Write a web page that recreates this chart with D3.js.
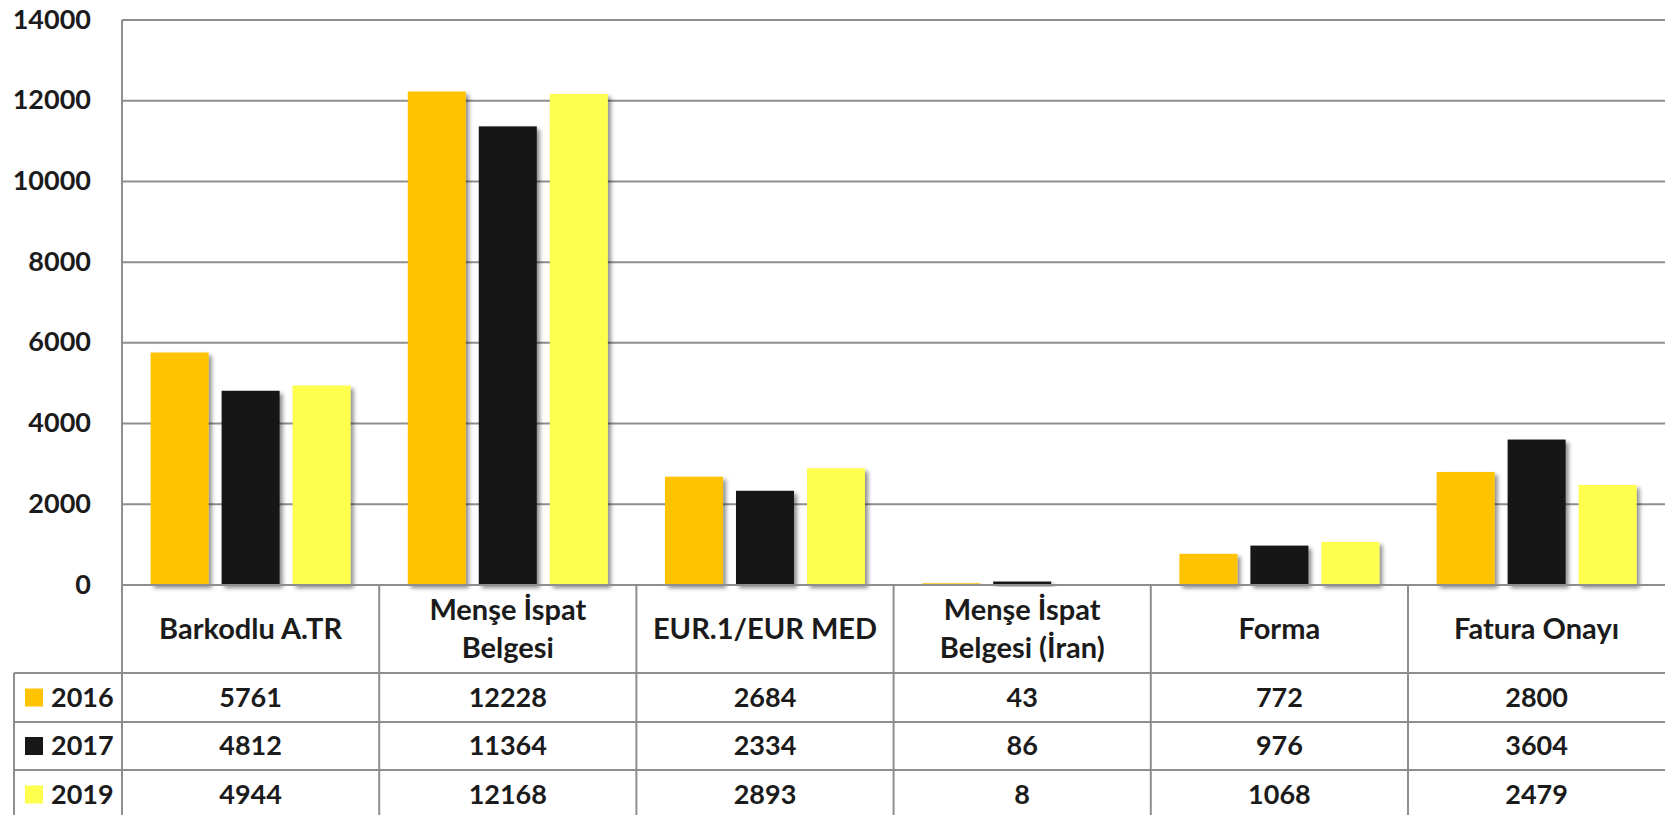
<!DOCTYPE html>
<html><head><meta charset="utf-8">
<script src="https://cdn.jsdelivr.net/npm/d3@7"></script>
<style>
html,body{margin:0;padding:0;background:#fff;overflow:hidden;}
svg text{font-family:Lato,"Open Sans",sans-serif;font-weight:700;fill:#1b1b1b;}
</style></head>
<body>
<svg id="c" width="1665" height="815"></svg>
<script>
const categories = [["Barkodlu A.TR"],["Menşe İspat","Belgesi"],["EUR.1/EUR MED"],["Menşe İspat","Belgesi (İran)"],["Forma"],["Fatura Onayı"]];
const seriesNames = ["2016","2017","2019"];
const seriesColors = ["#FFC300","#171717","#FFFF4D"];
const values2016 = [5761,12228,2684,43,772,2800];
const values2017 = [4812,11364,2334,86,976,3604];
const values2019 = [4944,12168,2893,8,1068,2479];
const yTicks = [0,2000,4000,6000,8000,10000,12000,14000];

(function(){
const series = [values2016, values2017, values2019];
const svg = d3.select("#c");
const W = 1665;
const plotLeft = 122, plotTop = 20, zeroY = 585;
const rowYs = [673, 722, 770, 819];
const gridColor = "#928d8d";

const defs = svg.append("defs");
const f = defs.append("filter").attr("id","sh").attr("x","-20%").attr("y","-20%").attr("width","150%").attr("height","150%");
f.append("feDropShadow").attr("dx",3).attr("dy",3).attr("stdDeviation",2.2).attr("flood-color","#000").attr("flood-opacity",0.45);

const catIdx = categories.map((d,i)=>i);
const x0 = d3.scaleBand().domain(catIdx).range([plotLeft, plotLeft + 257.2*6]).paddingInner(0).paddingOuter(0);
const x1 = d3.scaleBand().domain(d3.range(3)).range([0, x0.bandwidth()]).paddingInner(0.183).paddingOuter(0.403);
const y = d3.scaleLinear().domain([0,14000]).range([zeroY, plotTop]);

// gridlines
svg.append("g").selectAll("line").data(yTicks).join("line")
  .attr("x1", plotLeft).attr("x2", W).attr("y1", d=>y(d)).attr("y2", d=>y(d))
  .attr("stroke", gridColor).attr("stroke-width", 2);

// y-axis labels
const yAxis = d3.axisLeft(y).tickValues(yTicks).tickSize(0).tickPadding(0).tickFormat(d3.format("d"));
const ga = svg.append("g").attr("transform", `translate(91,0)`).call(yAxis);
ga.select(".domain").remove();
ga.selectAll("text").attr("font-size", 27).attr("font-family","Lato,'Open Sans',sans-serif").attr("font-weight",700).attr("fill","#1b1b1b").attr("dy","0.3em").attr("text-anchor","end");

// bars
const g = svg.append("g");
series.forEach((vals, s) => {
  g.selectAll(".b"+s).data(vals).join("rect").attr("class","b"+s)
    .attr("x", (d,i)=>x0(i)+x1(s))
    .attr("width", x1.bandwidth())
    .attr("y", d=>y(d))
    .attr("height", d=>zeroY - y(d))
    .attr("fill", seriesColors[s])
    .attr("filter","url(#sh)");
});

// table lines
const tg = svg.append("g").attr("stroke", gridColor).attr("stroke-width", 2);
tg.append("line").attr("x1", plotLeft).attr("x2", plotLeft).attr("y1", plotTop).attr("y2", 815);
tg.append("line").attr("x1", 14).attr("x2", 14).attr("y1", rowYs[0]).attr("y2", 815);
catIdx.slice(1).forEach(i => {
  tg.append("line").attr("x1", x0(i)).attr("x2", x0(i)).attr("y1", zeroY).attr("y2", 815);
});
tg.append("line").attr("x1", plotLeft).attr("x2", W).attr("y1", zeroY).attr("y2", zeroY);
rowYs.slice(0,3).forEach(ry => {
  tg.append("line").attr("x1", 14).attr("x2", W).attr("y1", ry).attr("y2", ry);
});

// category labels
categories.forEach((lines, i) => {
  const cx = x0(i) + x0.bandwidth()/2;
  const cy = (zeroY + rowYs[0]) / 2;
  const lh = 38;
  lines.forEach((t, k) => {
    svg.append("text").attr("x", cx).attr("y", cy + (k - (lines.length-1)/2)*lh)
      .attr("dy","0.35em").attr("text-anchor","middle").attr("font-size",29).text(t);
  });
});

// legend and values
seriesNames.forEach((name, s) => {
  const cy = (rowYs[s] + rowYs[s+1]) / 2;
  svg.append("rect").attr("x", 25).attr("y", cy - 9).attr("width", 18).attr("height", 18).attr("fill", seriesColors[s]);
  svg.append("text").attr("x", 51).attr("y", cy).attr("dy","0.35em").attr("font-size",27).text(name);
  series[s].forEach((v, i) => {
    svg.append("text").attr("x", x0(i) + x0.bandwidth()/2).attr("y", cy).attr("dy","0.35em")
      .attr("text-anchor","middle").attr("font-size",27).text(v);
  });
});
})();
</script>
</body></html>
